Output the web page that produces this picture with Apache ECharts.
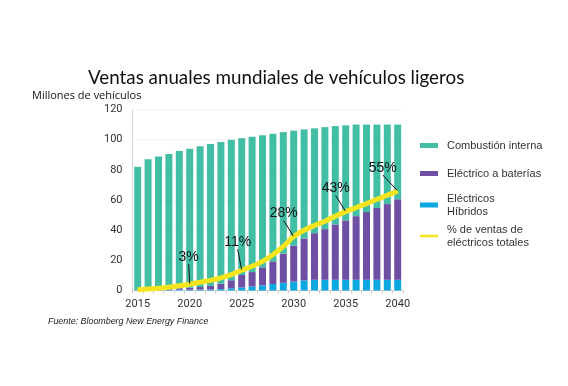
<!DOCTYPE html>
<html>
<head>
<meta charset="utf-8">
<script src="https://cdn.jsdelivr.net/npm/echarts@6/dist/echarts.min.js"></script>
<style>html,body{margin:0;padding:0;background:#fff}#c{width:568px;height:386px}</style>
</head>
<body>
<div id="c"></div>
<script>
const years = ['2015','2016','2017','2018','2019','2020','2021','2022','2023','2024','2025','2026','2027','2028','2029','2030','2031','2032','2033','2034','2035','2036','2037','2038','2039','2040'];
const hybrid = [0.1,0.2,0.3,0.4,0.5,0.5,0.6,0.6,0.9,1.4,2.0,2.7,3.4,4.3,5.1,5.9,6.7,7.1,7.1,7.1,7.1,7.1,7.1,7.1,7.1,7.1];
const battery = [0.3,0.4,0.6,0.8,1.0,1.3,1.7,2.6,3.5,5.4,8.3,9.5,11.9,15.0,19.3,23.9,27.8,30.9,33.6,36.7,39.4,42.2,44.9,47.6,50.2,53.4];
const combustion = [81.6,86.4,87.9,89.3,91.0,92.2,93.4,94.0,94.1,93.2,90.7,89.8,87.7,84.7,80.6,76.2,72.3,69.5,67.6,65.2,63.0,60.7,58.0,55.3,52.7,49.5];
const evShare = [0.4,0.8,1.2,1.8,2.6,3.5,4.6,5.6,7.0,8.8,11.2,13.4,16.1,19.8,24.4,29.8,33.3,35.9,38.3,41.1,43.6,45.8,48.0,50.4,52.6,55.0];
const annotYears = ['2020','2025','2030','2035','2040'];
const annotTexts = ['3%','11%','28%','43%','55%'];
const yTicks = [0,20,40,60,80,100,120];

const names = ['Combustión interna','Eléctrico a baterías','Eléctricos\nHíbridos','% de ventas de\neléctricos totales'];
const colors = {comb:'#42BEA5', bat:'#6F4FA3', hyb:'#0BA7E1', line:'#F6E51E'};

const lineData = evShare.map((v,i)=>{
  const k = annotYears.indexOf(years[i]);
  if (k < 0) return v;
  return {value:v, label:{show:true, formatter:annotTexts[k]}, labelLine:{show:true}};
});

const labelShift = {'2020':[-1,-27],'2025':[-4,-28],'2030':[-10,-23],'2035':[-10,-23],'2040':[-15,-23]};

const chart = echarts.init(document.getElementById('c'));
const legendBase = {orient:'vertical', left:415, itemWidth:18, itemHeight:5,
  textStyle:{fontFamily:'Liberation Sans, Arial, sans-serif', fontSize:11, color:'#333', lineHeight:13, padding:[0,0,0,4]}};
chart.setOption({
  animation:false,
  title:[
    {text:'Ventas anuales mundiales de vehículos ligeros', left:88, top:68, padding:0,
     textStyle:{fontFamily:'Lato, sans-serif', fontWeight:'normal', fontSize:18.8, color:'#111'}},
    {text:'Millones de vehículos', left:32, top:90, padding:0,
     textStyle:{fontFamily:'Open Sans, sans-serif', fontWeight:'normal', fontSize:11, color:'#111'}},
    {text:'Fuente: Bloomberg New Energy Finance', left:48, top:317, padding:0,
     textStyle:{fontFamily:'Liberation Sans, Arial, sans-serif', fontStyle:'italic', fontWeight:'normal', fontSize:8.9, color:'#222'}}
  ],
  legend:[
    Object.assign({}, legendBase, {top:134, data:[{name:names[0], icon:'rect'}]}),
    Object.assign({}, legendBase, {top:162, data:[{name:names[1], icon:'rect'}]}),
    Object.assign({}, legendBase, {top:187, data:[{name:names[2], icon:'rect'}]}),
    Object.assign({}, legendBase, {top:218, data:[{name:names[3], icon:'path://M0,0H18V2.5H0Z'}]})
  ],
  grid:{left:132.5, top:109.5, width:270.4, height:181, containLabel:false},
  xAxis:{type:'category', data:years,
    axisLine:{lineStyle:{color:'#d0d0d0'}},
    axisTick:{show:true, interval:0, length:3, lineStyle:{color:'#ccc'}},
    axisLabel:{interval:4, margin:8, fontFamily:'Roboto, sans-serif', fontSize:11, color:'#333'}},
  yAxis:[
    {type:'value', min:0, max:120, interval:20,
     axisLine:{show:true, lineStyle:{color:'#d8d8d8'}}, axisTick:{show:false},
     splitLine:{lineStyle:{color:'#e8e8e8', type:'dotted'}},
     axisLabel:{margin:10, fontFamily:'Roboto, sans-serif', fontSize:11, color:'#333',
       formatter:v=> yTicks.indexOf(v)>=0 ? String(v) : ''}},
    {type:'value', min:0, max:100, show:false, splitLine:{show:false}}
  ],
  series:[
    {name:names[2], type:'bar', stack:'s', data:hybrid, barWidth:7, itemStyle:{color:colors.hyb}},
    {name:names[1], type:'bar', stack:'s', data:battery, barWidth:7, itemStyle:{color:colors.bat}},
    {name:names[0], type:'bar', stack:'s', data:combustion, barWidth:7, itemStyle:{color:colors.comb}},
    {name:names[3], type:'line', yAxisIndex:1, data:lineData, smooth:0.3,
     symbol:'circle', symbolSize:1, showSymbol:true, itemStyle:{color:colors.line},
     lineStyle:{color:colors.line, width:5},
     label:{show:false, position:'inside', fontFamily:'Liberation Sans, Arial, sans-serif', fontSize:14, color:'#111', padding:2},
     labelLine:{show:false, lineStyle:{color:'#111', width:1}},
     labelLayout:function(p){
       const s = labelShift[years[p.dataIndex]];
       return s ? {dx:s[0], dy:s[1]} : {};
     }}
  ]
});
</script>
</body>
</html>
